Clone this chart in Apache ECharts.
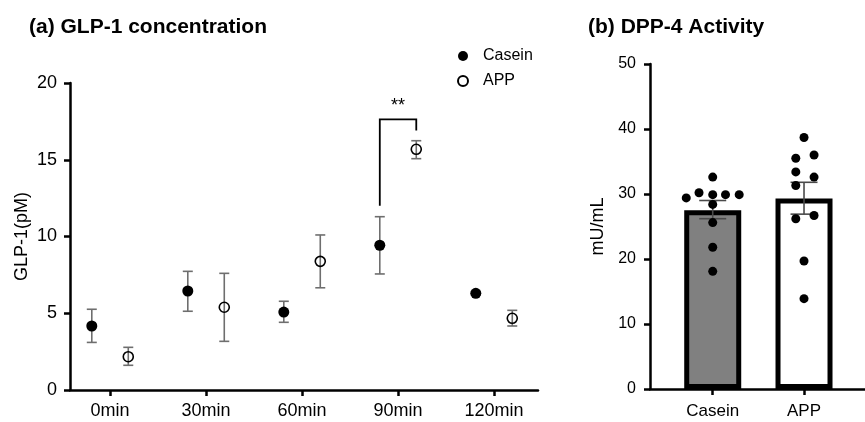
<!DOCTYPE html>
<html>
<head>
<meta charset="utf-8">
<script src="https://cdn.jsdelivr.net/npm/echarts@6/dist/echarts.min.js"></script>
<style>
  html, body { margin: 0; padding: 0; background: #fff; }
  #main { width: 865px; height: 422px; }
</style>
</head>
<body>
<div id="main"></div>
<script>
// (a) GLP-1, mean with upper / lower ends of the error bars
var timeLabels = ['0min', '30min', '60min', '90min', '120min'];
var caseinMean = [4.17, 6.45, 5.08, 9.43, 6.30];
var caseinUpper = [5.26, 7.73, 5.78, 11.29, 6.42];
var caseinLower = [3.10, 5.13, 4.41, 7.56, 6.18];
var appMean = [2.17, 5.39, 8.38, 15.68, 4.67];
var appUpper = [2.78, 7.60, 10.10, 16.24, 5.19];
var appLower = [1.61, 3.17, 6.66, 15.07, 4.17];
var glpTicks = [0, 5, 10, 15, 20];
// significance bracket at 90min: left foot, top, right foot
var bracket = [12.0, 17.63, 16.9];

// (b) DPP-4 activity
var groupNames = ['Casein', 'APP'];
var barMeans = [27.5, 29.3];
var barUpper = [29.0, 31.8];
var barLower = [26.2, 26.9];
var caseinDots = [29.4, 30.2, 29.9, 29.9, 29.9, 32.6, 28.4, 25.6, 21.8, 18.1];
var appDots = [38.7, 35.5, 36.0, 33.4, 32.6, 31.3, 26.2, 26.7, 19.7, 13.9];
var dppTicks = [0, 10, 20, 30, 40, 50];

// horizontal spread of the dots (layout only)
var caseinJitter = [-0.29, -0.15, 0, 0.14, 0.29, 0, 0, 0, 0, 0];
var appJitter = [0, -0.09, 0.11, -0.09, 0.11, -0.09, -0.09, 0.11, 0, 0];
var offset = 0.19;

var font = '"Liberation Sans", Arial, sans-serif';

function errBars(cap, color) {
  return function (params, api) {
    var top = api.coord([api.value(0), api.value(2)]);
    var bot = api.coord([api.value(0), api.value(1)]);
    var st = { stroke: color, lineWidth: 1.6 };
    return {
      type: 'group',
      children: [
        { type: 'line', shape: { x1: top[0], y1: top[1], x2: bot[0], y2: bot[1] }, style: st },
        { type: 'line', shape: { x1: top[0] - cap / 2, y1: top[1], x2: top[0] + cap / 2, y2: top[1] }, style: st },
        { type: 'line', shape: { x1: bot[0] - cap / 2, y1: bot[1], x2: bot[0] + cap / 2, y2: bot[1] }, style: st }
      ]
    };
  };
}

var caseinPts = caseinMean.map(function (v, i) { return [i - offset, v]; });
var appPts = appMean.map(function (v, i) { return [i + offset, v]; });
var caseinErr = caseinMean.map(function (v, i) { return [i - offset, caseinLower[i], caseinUpper[i]]; });
var appErr = appMean.map(function (v, i) { return [i + offset, appLower[i], appUpper[i]]; });

var barData = barMeans.map(function (v, i) {
  return {
    value: [i, v],
    itemStyle: { color: i === 0 ? '#808080' : '#ffffff', borderColor: '#000', borderWidth: 5 }
  };
});
var barErr = barMeans.map(function (v, i) { return [i, barLower[i], barUpper[i]]; });
var dotData = caseinDots.map(function (v, i) { return [caseinJitter[i], v]; })
  .concat(appDots.map(function (v, i) { return [1 + appJitter[i], v]; }));

var axisLine = { show: true, onZero: false, lineStyle: { color: '#000', width: 2.5 } };
var axisTick = { show: true, length: 6, lineStyle: { color: '#000', width: 2.5 } };

var myChart = echarts.init(document.getElementById('main'));
var option = {
  animation: false,
  backgroundColor: '#fff',
  textStyle: { fontFamily: font },
  title: [
    { text: '(a) GLP-1 concentration', left: 24, top: 12,
      textStyle: { fontSize: 21, fontWeight: 'bold', color: '#000', fontFamily: font } },
    { text: '(b) DPP-4 Activity', left: 583, top: 12,
      textStyle: { fontSize: 21, fontWeight: 'bold', color: '#000', fontFamily: font } }
  ],
  legend: {
    orient: 'vertical',
    left: 452,
    top: 43,
    itemWidth: 30,
    itemHeight: 10,
    itemGap: 9,
    data: ['Casein', 'APP'],
    textStyle: { fontSize: 16, color: '#000', fontFamily: font }
  },
  grid: [
    { left: 70, top: 83, width: 468, height: 307 },
    { left: 650, top: 64, width: 215, height: 325 }
  ],
  xAxis: [
    {
      gridIndex: 0, type: 'value', min: -0.417, max: 4.458,
      axisLine: axisLine,
      axisTick: { show: true, length: 6, lineStyle: { color: '#000', width: 2.5 }, customValues: [0, 1, 2, 3, 4] },
      axisLabel: {
        customValues: [0, 1, 2, 3, 4], margin: 12, fontSize: 18, color: '#000', fontFamily: font,
        formatter: function (v) { return timeLabels[Math.round(v)]; }
      },
      splitLine: { show: false }
    },
    {
      gridIndex: 1, type: 'value', min: -0.687, max: 1.668,
      axisLine: axisLine,
      axisTick: { show: true, length: 6, lineStyle: { color: '#000', width: 2.5 }, customValues: [0, 1] },
      axisLabel: {
        customValues: [0, 1], margin: 14, fontSize: 17, color: '#000', fontFamily: font,
        formatter: function (v) { return groupNames[Math.round(v)]; }
      },
      splitLine: { show: false }
    }
  ],
  yAxis: [
    {
      gridIndex: 0, type: 'value', min: glpTicks[0], max: glpTicks[glpTicks.length - 1], interval: 5,
      name: 'GLP-1(pM)', nameLocation: 'middle', nameGap: 39, nameMoveOverlap: false,
      nameTextStyle: { fontSize: 18, color: '#000', fontFamily: font },
      axisLine: axisLine, axisTick: axisTick,
      axisLabel: { margin: 13, fontSize: 18, color: '#000', fontFamily: font },
      splitLine: { show: false }
    },
    {
      gridIndex: 1, type: 'value', min: dppTicks[0], max: dppTicks[dppTicks.length - 1], interval: 10,
      name: 'mU/mL', nameLocation: 'middle', nameGap: 43, nameMoveOverlap: false,
      nameTextStyle: { fontSize: 18, color: '#000', fontFamily: font },
      axisLine: axisLine, axisTick: axisTick,
      axisLabel: { margin: 14, fontSize: 16, color: '#000', fontFamily: font },
      splitLine: { show: false }
    }
  ],
  series: [
    {
      type: 'custom', name: 'caseinErr', xAxisIndex: 0, yAxisIndex: 0, z: 2,
      renderItem: errBars(10, '#6e6e6e'), data: caseinErr, silent: true
    },
    {
      type: 'custom', name: 'appErr', xAxisIndex: 0, yAxisIndex: 0, z: 2,
      renderItem: errBars(10, '#6e6e6e'), data: appErr, silent: true
    },
    {
      type: 'scatter', name: 'Casein', xAxisIndex: 0, yAxisIndex: 0, z: 3,
      symbol: 'circle', symbolSize: 11,
      itemStyle: { color: '#000', opacity: 1 },
      data: caseinPts
    },
    {
      type: 'scatter', name: 'APP', xAxisIndex: 0, yAxisIndex: 0, z: 3,
      symbol: 'circle', symbolSize: 10,
      itemStyle: { color: 'rgba(255,255,255,0)', borderColor: '#000', borderWidth: 1.6, opacity: 1 },
      data: appPts
    },
    {
      type: 'custom', name: 'bracket', xAxisIndex: 0, yAxisIndex: 0, z: 4, silent: true,
      data: [[3 - offset, 3 + offset]],
      renderItem: function (params, api) {
        var a = api.coord([api.value(0), bracket[0]]);
        var b = api.coord([api.value(0), bracket[1]]);
        var c = api.coord([api.value(1), bracket[1]]);
        var d = api.coord([api.value(1), bracket[2]]);
        return {
          type: 'group',
          children: [
            { type: 'polyline', shape: { points: [a, b, c, d] },
              style: { stroke: '#000', lineWidth: 1.8, fill: null } },
            { type: 'text', x: (b[0] + c[0]) / 2, y: b[1] - 4,
              style: { text: '**', fontSize: 18, fontFamily: font, fill: '#000',
                       align: 'center', verticalAlign: 'bottom' } }
          ]
        };
      }
    },
    {
      type: 'bar', name: 'dpp', xAxisIndex: 1, yAxisIndex: 1, z: 2,
      barWidth: 57, data: barData
    },
    {
      type: 'custom', name: 'barErr', xAxisIndex: 1, yAxisIndex: 1, z: 4,
      renderItem: errBars(27, '#4a4a4a'), data: barErr, silent: true
    },
    {
      type: 'scatter', name: 'dots', xAxisIndex: 1, yAxisIndex: 1, z: 5,
      symbol: 'circle', symbolSize: 9,
      itemStyle: { color: '#000', opacity: 1 },
      data: dotData
    }
  ]
};
myChart.setOption(option);
</script>
</body>
</html>
